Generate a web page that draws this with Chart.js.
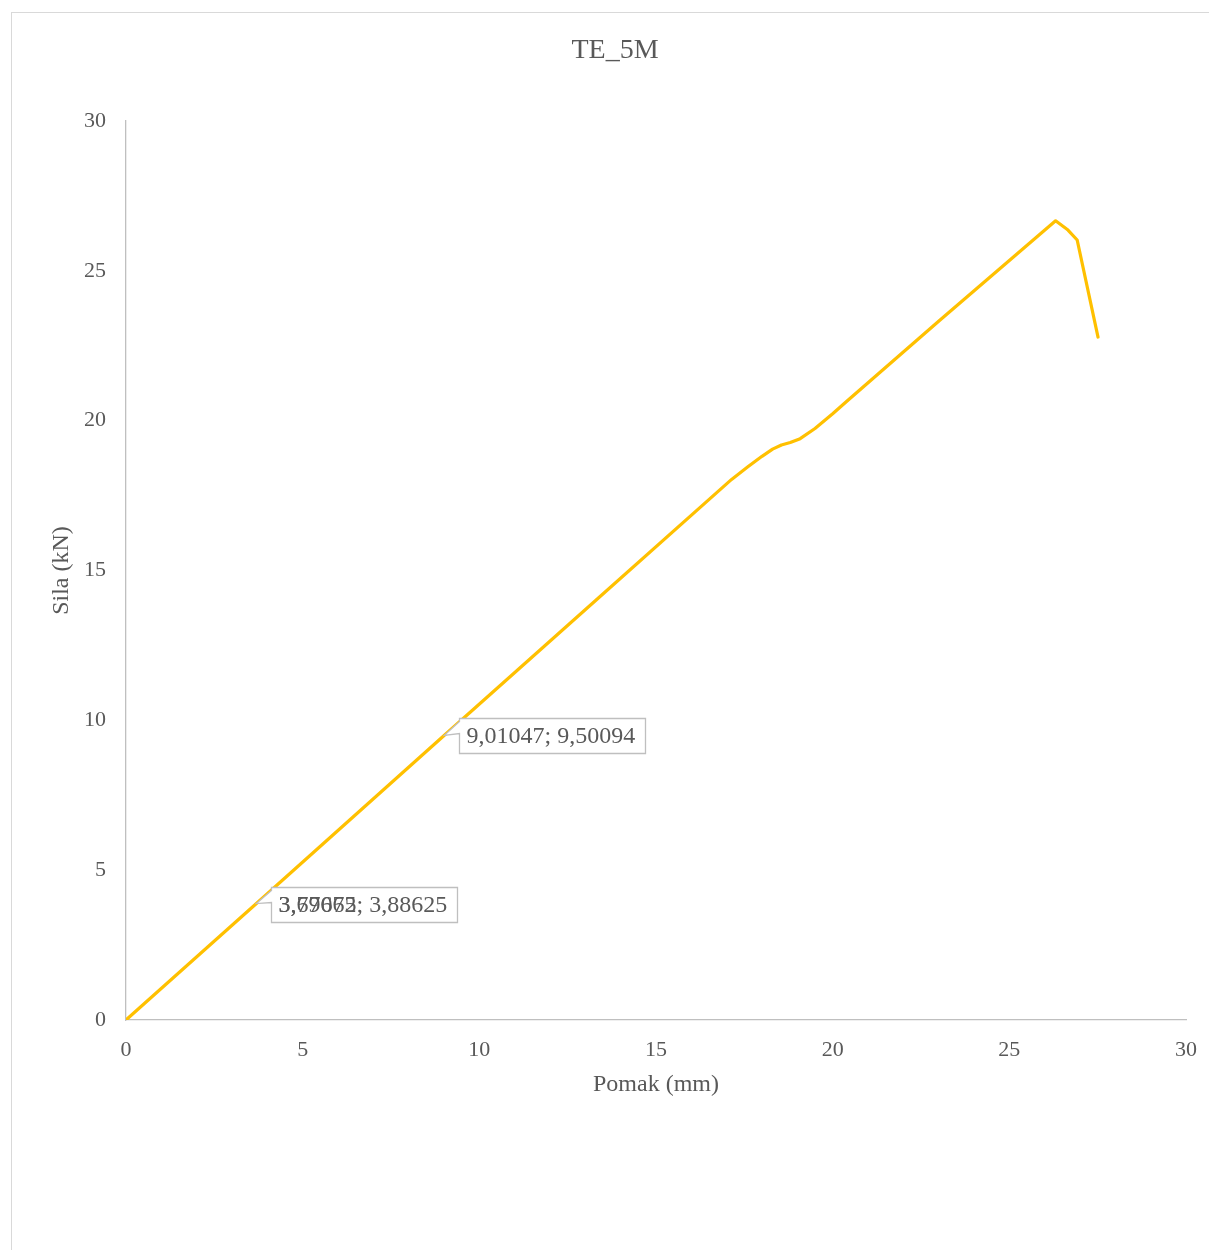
<!DOCTYPE html>
<html>
<head>
<meta charset="utf-8">
<script src="https://cdn.jsdelivr.net/npm/chart.js@4/dist/chart.umd.min.js"></script>
<style>
  html, body { margin: 0; padding: 0; background: #fff; }
  #wrap { position: absolute; left: 0; top: 0; width: 1209px; height: 1250px; }
</style>
</head>
<body>
<div id="wrap"><canvas id="c" width="1209" height="1250"></canvas></div>
<script>
// ---- data ----
const chartTitle = "TE_5M";
const xAxisTitle = "Pomak (mm)";
const yAxisTitle = "Sila (kN)";
const pomak = [0, 3.69065, 9.01047, 13.37, 17.14, 17.6, 18.0, 18.3, 18.55, 18.8, 19.08, 19.5, 20.0, 20.4, 23.04, 26.31, 26.66, 26.92, 27.51];
const sila  = [0, 3.88625, 9.50094, 14.08, 18.04, 18.46, 18.81, 19.05, 19.19, 19.27, 19.40, 19.74, 20.23, 20.65, 23.36, 26.67, 26.36, 26.03, 22.79];
const xTicks = [0, 5, 10, 15, 20, 25, 30];
const yTicks = [0, 5, 10, 15, 20, 25, 30];
const labelPomak = [3.69065, 9.01047];
const labelSila = [3.88625, 9.50094];
const labelTexts = [["3,69065; 3,88625", "3,77672"], ["9,01047; 9,50094"]];

const FONT = '"Liberation Serif", "Times New Roman", serif';
const TXT = '#595959';

const points = pomak.map((x, i) => ({ x: x, y: sila[i] }));

const decor = {
  id: 'decor',
  afterDraw(chart) {
    const ctx = chart.ctx;
    const xs = chart.scales.x, ys = chart.scales.y;
    const ca = chart.chartArea;
    ctx.save();
    ctx.strokeStyle = '#d9d9d9';
    ctx.lineWidth = 1;
    ctx.strokeRect(11.5, 12.5, 1400, 1400);
    ctx.fillStyle = TXT;
    ctx.textAlign = 'center';
    ctx.textBaseline = 'middle';
    ctx.font = '28px ' + FONT;
    ctx.fillText(chartTitle, 615, 51);
    ctx.font = '24px ' + FONT;
    ctx.fillText(xAxisTitle, 656, 1085);
    ctx.save();
    ctx.translate(62, (ca.top + ca.bottom) / 2);
    ctx.rotate(-Math.PI / 2);
    ctx.fillText(yAxisTitle, 0, 0);
    ctx.restore();
    ctx.font = '24px ' + FONT;
    labelPomak.forEach((lx, i) => {
      const px = xs.getPixelForValue(lx);
      const py = ys.getPixelForValue(labelSila[i]);
      const bl = Math.round(px + 15) + 0.5;
      const bt = Math.round(py - 17) + 0.5;
      const bw = 186, bh = 35;
      ctx.beginPath();
      ctx.moveTo(bl, bt);
      ctx.lineTo(bl + bw, bt);
      ctx.lineTo(bl + bw, bt + bh);
      ctx.lineTo(bl, bt + bh);
      ctx.lineTo(bl, bt + 15);
      ctx.lineTo(px, py);
      ctx.lineTo(bl + 0, bt + 3);
      ctx.closePath();
      ctx.fillStyle = '#ffffff';
      ctx.fill();
      ctx.strokeStyle = '#bfbfbf';
      ctx.lineWidth = 1.3;
      ctx.stroke();
      ctx.fillStyle = TXT;
      ctx.textAlign = 'left';
      ctx.textBaseline = 'middle';
      labelTexts[i].forEach(t => ctx.fillText(t, bl + 7, bt + bh / 2 + 1));
    });
    ctx.restore();
  }
};

new Chart(document.getElementById('c'), {
  type: 'scatter',
  data: {
    datasets: [{
      data: points,
      showLine: true,
      borderColor: '#FFC000',
      backgroundColor: '#FFC000',
      borderWidth: 3.2,
      pointRadius: 0,
      tension: 0,
      borderJoinStyle: 'round',
      borderCapStyle: 'round',
      fill: false
    }]
  },
  options: {
    responsive: false,
    animation: false,
    devicePixelRatio: 1,
    layout: { padding: { top: 121, right: 23, left: 0, bottom: 0 } },
    plugins: { legend: { display: false }, title: { display: false }, tooltip: { enabled: false } },
    scales: {
      x: {
        type: 'linear',
        min: 0, max: 30,
        afterBuildTicks: s => { s.ticks = xTicks.map(v => ({ value: v })); },
        ticks: { color: TXT, font: { family: FONT, size: 22 }, padding: 17, maxRotation: 0 },
        grid: { display: false, drawTicks: false },
        border: { display: true, color: '#bfbfbf', width: 1.3 },
        afterFit: s => { s.height = 230; s.paddingRight = 0; s.paddingLeft = 0; }
      },
      y: {
        type: 'linear',
        min: 0, max: 30,
        afterBuildTicks: s => { s.ticks = yTicks.map(v => ({ value: v })); },
        ticks: { color: TXT, font: { family: FONT, size: 22 }, padding: 20 },
        grid: { display: false, drawTicks: false },
        border: { display: true, color: '#bfbfbf', width: 1.3 },
        afterFit: s => { s.width = 126; s.paddingTop = 0; s.paddingBottom = 0; }
      }
    }
  },
  plugins: [decor]
});
</script>
</body>
</html>
